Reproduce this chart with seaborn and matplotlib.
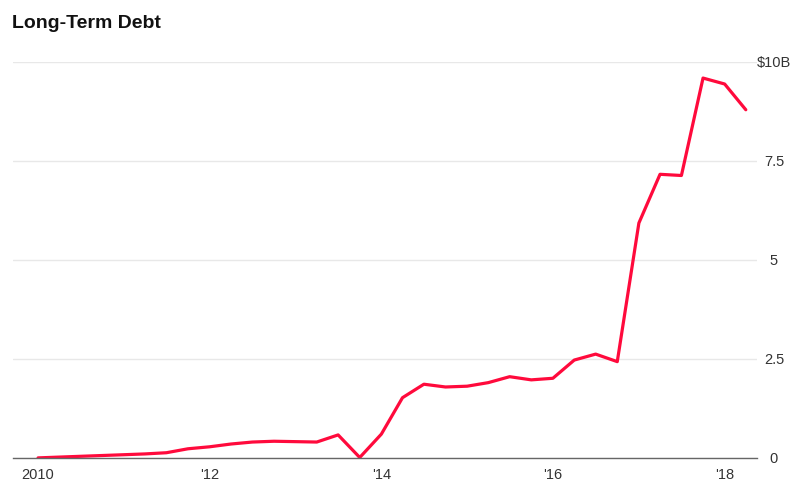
import pandas as pd
import matplotlib.pyplot as plt
import seaborn as sns

# quarterly long-term debt, billions of dollars (2010 Q1 .. 2018 Q2)
debt_b = [0.00, 0.02, 0.04, 0.06, 0.08, 0.10, 0.13, 0.23,
          0.28, 0.35, 0.40, 0.42, 0.41, 0.40, 0.58, 0.01,
          0.60, 1.52, 1.86, 1.79, 1.81, 1.90, 2.05, 1.97,
          2.01, 2.47, 2.62, 2.43, 5.93, 7.16, 7.13, 9.59,
          9.44, 8.79]
quarters = pd.date_range('2010-01-01', periods=len(debt_b), freq='QS')

y_ticks = [0, 2.5, 5, 7.5, 10]
y_labels = ['0', '2.5', '5', '7.5', '$10B']
x_years = ['2010', '2012', '2014', '2016', '2018']
x_labels = ['2010', "'12", "'14", "'16", "'18"]

df = pd.DataFrame({'fecha': quarters, 'deuda': debt_b})

sns.set_style('white')
plt.rcParams['font.family'] = ['Liberation Sans', 'DejaVu Sans']

fig = plt.figure(figsize=(7.93, 4.83), dpi=100)
ax = fig.add_axes([0.016, 0.052, 0.939, 0.82])

sns.lineplot(data=df, x='fecha', y='deuda', color='#ff0a3c', linewidth=2.3, ax=ax)

ax.set_ylim(0, 10)
ax.set_xlim(pd.Timestamp('2009-09-15'), pd.Timestamp('2018-05-20'))

ax.set_yticks(y_ticks)
ax.set_yticklabels(y_labels)
ax.yaxis.tick_right()
ax.tick_params(axis='y', length=0, pad=12, labelsize=10.5, labelcolor='#333333')
for lbl in ax.get_yticklabels():
    lbl.set_horizontalalignment('center')

ax.set_xticks([pd.Timestamp(y + '-01-01') for y in x_years])
ax.set_xticklabels(x_labels)
ax.tick_params(axis='x', direction='out', length=5, width=1, color='#666666',
               labelsize=10.5, labelcolor='#333333', pad=2)

ax.grid(axis='y', color='#e8e8e8', linewidth=1)
ax.grid(axis='x', visible=False)
for side in ['top', 'left', 'right']:
    ax.spines[side].set_visible(False)
ax.spines['bottom'].set_color('#666666')
ax.spines['bottom'].set_linewidth(1)
ax.set_xlabel('')
ax.set_ylabel('')

fig.text(0.015, 0.952, 'Long-Term Debt', fontsize=14, fontweight='bold',
         color='#111111', va='center', ha='left')

fig.savefig('out.png', dpi=100)
